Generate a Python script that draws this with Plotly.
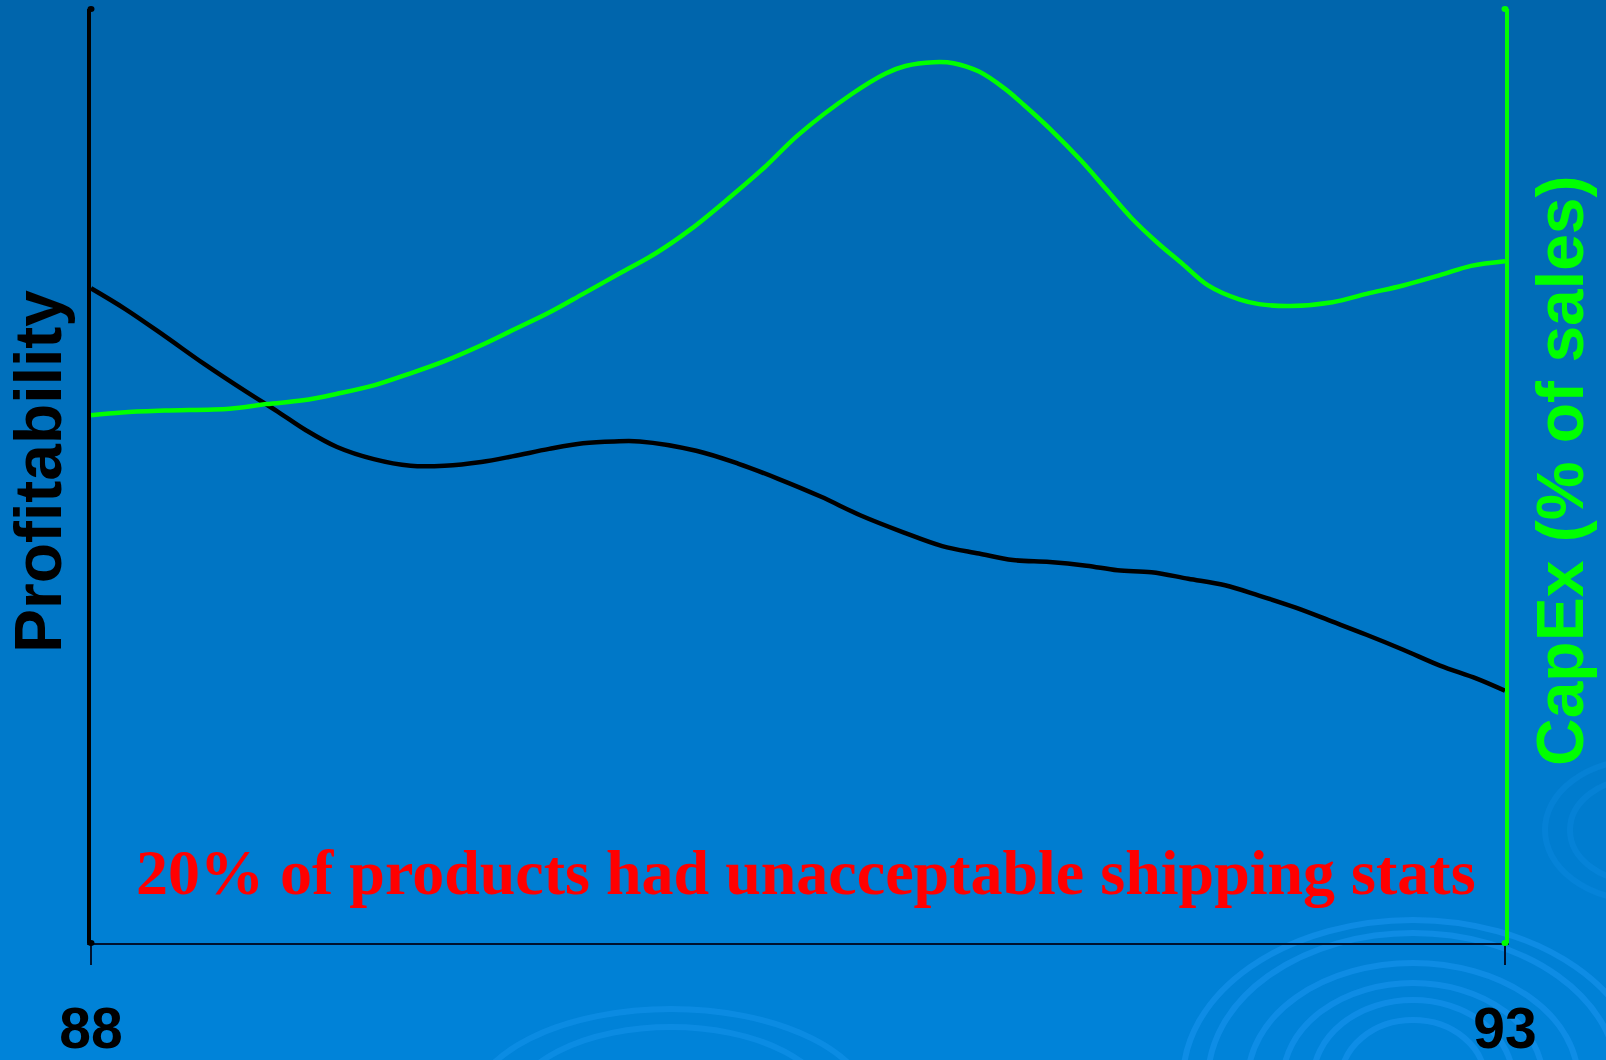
import plotly.graph_objects as go

# ---- data -------------------------------------------------------------
years_profit = [88.00, 88.12, 88.26, 88.40, 88.55, 88.66, 88.76, 88.87, 89.00,
                89.13, 89.25, 89.38, 89.49, 89.62, 89.74, 89.85, 89.94, 90.14,
                90.29, 90.43, 90.58, 90.72, 90.87, 91.01, 91.14, 91.26, 91.39,
                91.52, 91.63, 91.75, 91.88, 92.01, 92.13, 92.26, 92.39, 92.51,
                92.64, 92.77, 92.90, 93.00]
profitability = [70.1, 67.9, 65.0, 62.0, 59.0, 56.9, 54.9, 53.1, 51.8,
                 51.1, 51.1, 51.5, 52.1, 52.9, 53.5, 53.7, 53.7, 52.7,
                 51.3, 49.7, 47.8, 45.8, 44.0, 42.5, 41.7, 41.0, 40.8,
                 40.4, 39.9, 39.7, 39.0, 38.3, 37.2, 35.9, 34.4, 33.0,
                 31.4, 29.7, 28.3, 27.0]

years_capex = [88.00, 88.11, 88.26, 88.49, 88.62, 88.75, 88.87, 89.00, 89.13,
               89.25, 89.38, 89.49, 89.62, 89.74, 89.87, 90.00, 90.12, 90.25,
               90.38, 90.50, 90.69, 90.81, 90.88, 90.98, 91.05, 91.14, 91.23,
               91.30, 91.39, 91.50, 91.59, 91.68, 91.77, 91.86, 91.95, 92.06,
               92.13, 92.24, 92.39, 92.51, 92.64, 92.77, 92.88, 93.00]
capex = [56.5, 56.8, 57.0, 57.2, 57.7, 58.1, 58.8, 59.7, 61.0,
         62.3, 64.0, 65.6, 67.5, 69.5, 71.7, 73.9, 76.4, 79.6,
         83.0, 86.5, 90.9, 93.1, 93.9, 94.3, 94.2, 93.3, 91.5,
         89.7, 87.2, 83.8, 80.7, 77.6, 75.0, 72.7, 70.4, 68.9,
         68.4, 68.2, 68.6, 69.5, 70.4, 71.5, 72.5, 73.0]

tick_years = [88, 93]
tick_labels = ["88", "93"]

left_title = "Profitability"
right_title = "CapEx (% of sales)"
note = "20% of products had unacceptable shipping stats"

# ---- geometry of the canvas (pixels) ----------------------------------
FIG_W, FIG_H = 1606, 1060
L, R, T, B = 91, 1505, 9, 943
PW, PH = R - L, B - T


def px(x):
    return (x - L) / PW


def py(y):
    return (B - y) / PH


shapes = []

# vertical background gradient, dark blue at the top to lighter blue below
top_rgb = (0, 101, 172)
bot_rgb = (0, 131, 217)
n_bands = 106
band = FIG_H / n_bands
for i in range(n_bands):
    f = i / (n_bands - 1)
    c = tuple(round(top_rgb[k] + (bot_rgb[k] - top_rgb[k]) * f) for k in range(3))
    y0 = i * band
    y1 = (i + 1) * band + 1
    shapes.append(dict(type="rect", xref="paper", yref="paper", layer="below",
                       x0=px(0), x1=px(FIG_W), y0=py(y1), y1=py(y0),
                       line=dict(width=0), fillcolor="rgb(%d,%d,%d)" % c))

# faint ripple rings in the background
ripples = [
    (1413, 1080, 0.55, [(230, 160), (205, 147), (165, 117), (130, 97), (100, 80), (72, 60)]),
    (671, 1110, 0.45, [(200, 101), (160, 83)]),
    (1640, 830, 0.22, [(95, 70), (70, 52)]),
]
for cx, cy, alpha, radii in ripples:
    for rx, ry in radii:
        shapes.append(dict(type="circle", xref="paper", yref="paper", layer="below",
                           x0=px(cx - rx), x1=px(cx + rx),
                           y0=py(cy + ry), y1=py(cy - ry),
                           line=dict(color="rgba(25,150,240,%.2f)" % alpha, width=6)))

# small end caps on the axes
for (cx, cy, col) in [(L, T, "#000000"), (L, B, "#000000"),
                      (R, T, "#00FF00"), (R, B, "#00FF00")]:
    shapes.append(dict(type="circle", xref="paper", yref="paper", layer="above",
                       x0=px(cx - 3.5), x1=px(cx + 3.5),
                       y0=py(cy + 3), y1=py(cy - 3),
                       line=dict(width=0), fillcolor=col))

fig = go.Figure()

fig.add_trace(go.Scatter(
    x=years_profit, y=profitability, mode="lines",
    line=dict(color="#000000", width=4.5, shape="spline", smoothing=1.0),
    yaxis="y", hoverinfo="skip", showlegend=False, cliponaxis=False))

fig.add_trace(go.Scatter(
    x=years_capex, y=capex, mode="lines",
    line=dict(color="#00FF00", width=4.5, shape="spline", smoothing=1.0),
    yaxis="y2", hoverinfo="skip", showlegend=False, cliponaxis=False))

sans_bold = dict(family="Liberation Sans, Arial, sans-serif", weight="bold")

annotations = [
    dict(text=left_title, xref="paper", yref="paper", x=px(38), y=py(472),
         xanchor="center", yanchor="middle", textangle=-90, showarrow=False,
         font=dict(size=66, color="#000000", **sans_bold)),
    dict(text=right_title, xref="paper", yref="paper", x=px(1560), y=py(471),
         xanchor="center", yanchor="middle", textangle=-90, showarrow=False,
         font=dict(size=66, color="#00FF00", **sans_bold)),
    dict(text=note, xref="paper", yref="paper", x=px(806), y=py(872),
         xanchor="center", yanchor="middle", showarrow=False,
         font=dict(family="Liberation Serif, Times New Roman, serif", weight="bold",
                   size=64, color="#FF0000")),
]

fig.update_layout(
    width=FIG_W, height=FIG_H,
    margin=dict(l=L, r=FIG_W - R, t=T, b=FIG_H - B, pad=0, autoexpand=False),
    paper_bgcolor="rgb(0,101,172)",
    plot_bgcolor="rgba(0,0,0,0)",
    shapes=shapes,
    annotations=annotations,
    xaxis=dict(range=[88, 93], showgrid=False, zeroline=False, automargin=False,
               showline=True, linecolor="#00122e", linewidth=2,
               ticks="outside", ticklen=20, tickwidth=1.5, tickcolor="#00122e",
               tickvals=tick_years, ticktext=tick_labels,
               ticklabelstandoff=15,
               tickfont=dict(size=57, color="#000000", **sans_bold)),
    yaxis=dict(range=[0, 100], showgrid=False, zeroline=False, automargin=False,
               showline=True, linecolor="#000000", linewidth=4,
               showticklabels=False, ticks=""),
    yaxis2=dict(range=[0, 100], overlaying="y", side="right", automargin=False,
                showgrid=False, zeroline=False,
                showline=True, linecolor="#00FF00", linewidth=4,
                showticklabels=False, ticks=""),
)

fig.write_html("out.html")
